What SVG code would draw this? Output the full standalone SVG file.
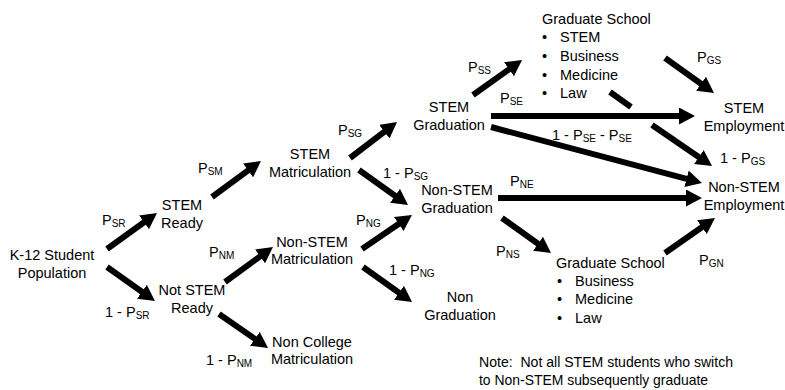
<svg xmlns="http://www.w3.org/2000/svg" width="785" height="390" viewBox="0 0 785 390">
<style>
text{font-family:"Liberation Sans",Arial,sans-serif;font-size:14.5px;fill:#000}
.c{text-anchor:middle}
.s{font-size:10px}
.a{stroke:#000;stroke-width:6;fill:none;marker-end:url(#h)}
.n{stroke:#000;stroke-width:6;fill:none}
</style>
<defs>
<marker id="h" markerUnits="userSpaceOnUse" markerWidth="16" markerHeight="17" viewBox="0 0 16 17" refX="6" refY="8.5" orient="auto">
<path d="M0,0 L16,8.5 L0,17 z" fill="#000"/>
</marker>
</defs>
<rect width="785" height="390" fill="#fff"/>
<g id="connectors">
<line class="a" x1="107" y1="249" x2="148.9" y2="218.8"/>
<line class="a" x1="107" y1="267" x2="146.8" y2="295.2"/>
<line class="a" x1="212" y1="197" x2="252.9" y2="166.9"/>
<line class="a" x1="225" y1="282" x2="264.9" y2="252.9"/>
<line class="a" x1="219" y1="314" x2="259.8" y2="342.3"/>
<line class="a" x1="350" y1="158" x2="389.1" y2="128.1"/>
<line class="a" x1="359" y1="170" x2="399.9" y2="199.2"/>
<line class="a" x1="362" y1="249" x2="403.7" y2="220.6"/>
<line class="a" x1="363" y1="267" x2="403.9" y2="296.2"/>
<line class="a" x1="498" y1="198" x2="692" y2="198"/>
<line class="a" x1="502" y1="218" x2="542.9" y2="247.2"/>
<line class="a" x1="665" y1="253" x2="706.8" y2="223.7"/>
<line class="a" x1="473" y1="95" x2="513.9" y2="65.8"/>
<line class="a" x1="491" y1="116" x2="685" y2="116"/>
<line class="a" x1="491" y1="127" x2="692.3" y2="180.4"/>
<line class="n" x1="610" y1="92" x2="631" y2="107"/>
<line class="a" x1="652" y1="125" x2="703.8" y2="160.4"/>
<line class="a" x1="665" y1="58" x2="705.9" y2="87.2"/>
</g>
<g id="labels">
<text x="102" y="225">P<tspan class="s" dy="2">SR</tspan></text>
<text x="105" y="317">1 - P<tspan class="s" dy="2">SR</tspan></text>
<text x="198" y="173">P<tspan class="s" dy="2">SM</tspan></text>
<text x="209" y="257">P<tspan class="s" dy="2">NM</tspan></text>
<text x="206" y="365">1 - P<tspan class="s" dy="2">NM</tspan></text>
<text x="338" y="135">P<tspan class="s" dy="2">SG</tspan></text>
<text x="383" y="178">1 - P<tspan class="s" dy="2">SG</tspan></text>
<text x="356" y="225">P<tspan class="s" dy="2">NG</tspan></text>
<text x="389" y="275">1 - P<tspan class="s" dy="2">NG</tspan></text>
<text x="510" y="186">P<tspan class="s" dy="2">NE</tspan></text>
<text x="496" y="256">P<tspan class="s" dy="2">NS</tspan></text>
<text x="699" y="265">P<tspan class="s" dy="2">GN</tspan></text>
<text x="468" y="72">P<tspan class="s" dy="2">SS</tspan></text>
<text x="500" y="103">P<tspan class="s" dy="2">SE</tspan></text>
<text x="552" y="140">1 - P<tspan class="s" dy="2">SE</tspan><tspan dy="-2"> - P</tspan><tspan class="s" dy="2">SE</tspan></text>
<text x="697" y="62">P<tspan class="s" dy="2">GS</tspan></text>
<text x="720" y="163">1 - P<tspan class="s" dy="2">GS</tspan></text>
</g>
<g id="k12">
<text class="c" x="52" y="260">K-12 Student</text>
<text class="c" x="52" y="278">Population</text>
</g>
<g id="stem-ready">
<text class="c" x="182" y="210">STEM</text>
<text class="c" x="182" y="228">Ready</text>
</g>
<g id="not-stem-ready">
<text class="c" x="192" y="295">Not STEM</text>
<text class="c" x="192" y="313">Ready</text>
</g>
<g id="stem-matric">
<text class="c" x="310" y="159">STEM</text>
<text class="c" x="310" y="177">Matriculation</text>
</g>
<g id="nonstem-matric">
<text class="c" x="312" y="247">Non-STEM</text>
<text class="c" x="312" y="264">Matriculation</text>
</g>
<g id="non-college">
<text class="c" x="312" y="347">Non College</text>
<text class="c" x="312" y="364">Matriculation</text>
</g>
<g id="stem-grad">
<text class="c" x="449" y="112">STEM</text>
<text class="c" x="449" y="130">Graduation</text>
</g>
<g id="nonstem-grad">
<text class="c" x="457" y="195">Non-STEM</text>
<text class="c" x="457" y="213">Graduation</text>
</g>
<g id="non-grad">
<text class="c" x="460" y="302">Non</text>
<text class="c" x="460" y="320">Graduation</text>
</g>
<g id="grad-school-stem">
<text x="542" y="24">Graduate School</text>
<text x="542" y="42">•</text><text x="560" y="42">STEM</text>
<text x="542" y="61">•</text><text x="560" y="61">Business</text>
<text x="542" y="80">•</text><text x="560" y="80">Medicine</text>
<text x="542" y="98">•</text><text x="560" y="98">Law</text>
</g>
<g id="grad-school-nonstem">
<text x="556" y="268">Graduate School</text>
<text x="557" y="286">•</text><text x="575" y="286">Business</text>
<text x="557" y="304">•</text><text x="575" y="304">Medicine</text>
<text x="557" y="323">•</text><text x="575" y="323">Law</text>
</g>
<g id="stem-employment">
<text class="c" x="744" y="113">STEM</text>
<text class="c" x="744" y="131">Employment</text>
</g>
<g id="nonstem-employment">
<text class="c" x="744" y="192">Non-STEM</text>
<text class="c" x="744" y="210">Employment</text>
</g>
<g id="note">
<text x="479" y="367" xml:space="preserve" textLength="254" lengthAdjust="spacingAndGlyphs">Note:  Not all STEM students who switch</text>
<text x="479" y="385" textLength="229" lengthAdjust="spacingAndGlyphs">to Non-STEM subsequently graduate</text>
</g>
</svg>
